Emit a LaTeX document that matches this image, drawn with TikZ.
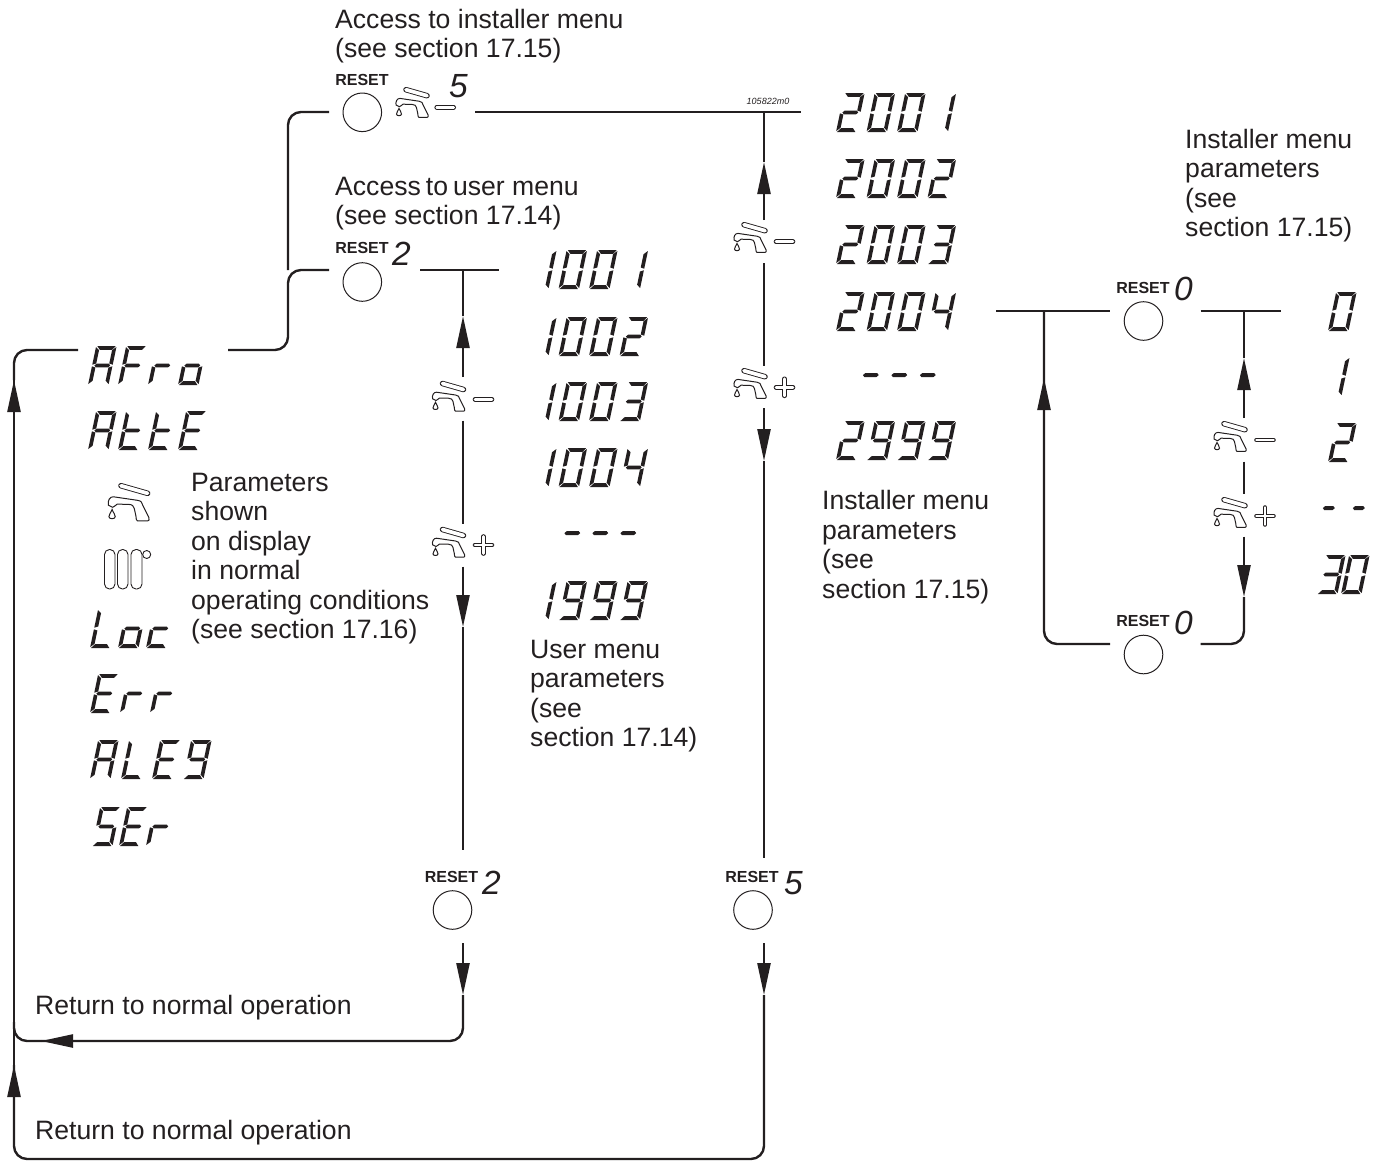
\documentclass[tikz,border=0pt]{standalone}
\usepackage{fontspec}
\setmainfont{Liberation Sans}
\usetikzlibrary{arrows.meta}
\definecolor{ink}{HTML}{231F20}
% seven segment definitions: digit box 22 x 39, y up
\def\sga{(1.2,39)--(21,39)--(18,35.2)--(4.8,35.2)--cycle}
\def\sgd{(1,0)--(20.8,0)--(17.4,3.8)--(4.6,3.8)--cycle}
\def\sgf{(0,38)--(4,34.8)--(4,21.5)--(0,20.3)--cycle}
\def\sge{(0,18.7)--(4,17.5)--(4,4.2)--(0,1)--cycle}
\def\sgb{(22,38)--(18,34.8)--(18,21.5)--(22,20.3)--cycle}
\def\sgc{(22,18.7)--(18,17.5)--(18,4.2)--(22,1)--cycle}
\def\sgg{(2.5,19.5)--(4.5,21.4)--(17.5,21.4)--(19.5,19.5)--(17.5,17.6)--(4.5,17.6)--cycle}
\def\sgh{(4.5,19.5)--(6.5,21.4)--(15.5,21.4)--(17.5,19.5)--(15.5,17.6)--(6.5,17.6)--cycle}
\def\sgz{(0,0)}
\expandafter\def\csname ch0\endcsname{a,b,c,d,e,f}
\expandafter\def\csname ch1\endcsname{b,c}
\expandafter\def\csname ch2\endcsname{a,b,g,e,d}
\expandafter\def\csname ch3\endcsname{a,b,g,c,d}
\expandafter\def\csname ch4\endcsname{f,g,b,c}
\expandafter\def\csname ch5\endcsname{a,f,g,c,d}
\expandafter\def\csname ch9\endcsname{a,b,c,d,f,g}
\expandafter\def\csname chA\endcsname{a,b,c,e,f,g}
\expandafter\def\csname chF\endcsname{a,e,f,g}
\expandafter\def\csname chr\endcsname{e,g}
\expandafter\def\csname cho\endcsname{c,d,e,g}
\expandafter\def\csname cht\endcsname{d,e,f,g}
\expandafter\def\csname chE\endcsname{a,d,e,f,g}
\expandafter\def\csname chL\endcsname{d,e,f}
\expandafter\def\csname chc\endcsname{d,e,g}
\expandafter\def\csname chS\endcsname{a,f,g,c,d}
\expandafter\def\csname chm\endcsname{g}
\expandafter\def\csname chn\endcsname{h}
\expandafter\def\csname chx\endcsname{z}
% \lcd{x}{y bottom}{pitch}{chars, comma separated}
\newcommand\lcd[4]{%
  \foreach \cc [count=\ii from 0] in {#4}{%
    \edef\seglist{\csname ch\cc\endcsname}%
    \begin{scope}[shift={({#1+\ii*#3},#2)},xslant=.21,x=.93pt,y=1pt]
      \foreach \ss in \seglist {\fill[ink] \csname sg\ss\endcsname;}
    \end{scope}}}
\newcommand\outl[2][5.5]{%
  \draw[ink,line width=#1pt,line cap=round] #2;
  \draw[white,line width=#1pt-1.8pt,line cap=round] #2;}
\tikzset{
  conn/.style={ink,line width=2.4pt,rounded corners=13pt},
  arr/.style={conn,-{Triangle[length=32pt,width=13pt]}},
  btn/.style={circle,draw=ink,line width=1pt,minimum size=38.6pt,inner sep=0pt},
  lbl/.style={text=ink,font=\fontsize{26.6pt}{29.4pt}\selectfont,align=left,inner sep=0pt,anchor=north west},
  rst/.style={text=ink,font=\fontsize{16pt}{18pt}\selectfont\bfseries,inner sep=0pt,anchor=base},
  num/.style={text=ink,font=\fontsize{33.5pt}{35pt}\selectfont\itshape,inner sep=0pt,anchor=base west},
  tapicon/.pic={
    \outl{(11,-27) -- (32,-21)}
    \draw[ink,line width=1pt,line join=round] (1,-11.7) .. controls (0.5,-15) and (2,-18.5) .. (5,-18.3)
      -- (24,-15.5) .. controls (27,-15) and (27.5,-14) .. (28,-12) -- (33,-2) .. controls (33.6,0) and (33,.7) .. (32,.7)
      -- (24,.7) .. controls (23,.7) and (23,-1) .. (22.8,-3) -- (21.5,-9) .. controls (21,-11) and (20,-12.3) .. (17,-12.3)
      -- (8,-12.5) .. controls (6.5,-12.5) and (6.5,-10) .. (4.5,-10) -- (1,-11.7) -- cycle;
    \draw[ink,line width=1pt] (4,-8.3) .. controls (5,-5.5) and (6.5,-4.5) .. (6.5,-2.6)
      .. controls (6.5,-.5) and (1.5,-.5) .. (1.5,-2.6) .. controls (1.5,-4.5) and (3,-5.5) .. (4,-8.3) -- cycle;
  },
  minus/.pic={\outl[4.6]{(0,0) -- (17,0)}},
  plus/.pic={
    \draw[ink,line width=4.6pt,line cap=round] (0,0) -- (17,0) (8.5,-8.5) -- (8.5,8.5);
    \draw[white,line width=2.8pt,line cap=round] (0,0) -- (17,0) (8.5,-8.5) -- (8.5,8.5);
  },
}
\begin{document}
\begin{tikzpicture}[x=1pt,y=-1pt]
\useasboundingbox (0,0) rectangle (1385,1160);
% ---------- buttons
\node[btn] (bI) at (362.3,112.3) {};
\node[btn] (bU) at (362.3,282) {};
\node[btn] (bU2) at (452.5,910) {};
\node[btn] (bI2) at (753,910) {};
\node[btn] (bP) at (1143.5,321) {};
\node[btn] (bP2) at (1143.5,654.5) {};
\node[rst] (rI) at (362,85) {RESET};
\node[rst] (rU) at (362,253) {RESET};
\node[rst] (rU2) at (451.5,882) {RESET};
\node[rst] (rI2) at (752,882) {RESET};
\node[rst] (rP) at (1143,293) {RESET};
\node[rst] (rP2) at (1143,626) {RESET};
\node[num] (nI) at (449,97) {5};
\node[num] (nU) at (392,265) {2};
\node[num] (nU2) at (482,894) {2};
\node[num] (nI2) at (784,894) {5};
\node[num] (nP) at (1174,300) {0};
\node[num] (nP2) at (1174,634) {0};
% ---------- texts
\node[lbl] (t1) at (335,9) {Access to installer menu\\(see section 17.15)};
\node[lbl] (t2) at (335,176.5) {Access{\hskip 5pt}to{\hskip 5pt}user menu\\(see section 17.14)};
\node[lbl] (t3) at (191,473) {Parameters\\shown\\on display\\in normal\\operating conditions\\(see section 17.16)};
\node[lbl] (t4) at (530,640) {User menu\\parameters\\(see\\section 17.14)};
\node[lbl] (t5) at (822,490.5) {Installer menu\\parameters\\(see\\section 17.15)};
\node[lbl] (t6) at (1185,129) {Installer menu\\parameters\\(see\\section 17.15)};
\node[lbl] (t7) at (35,995) {Return to normal operation};
\node[lbl] (t8) at (35,1120) {Return to normal operation};
\node[text=ink,font=\fontsize{9pt}{10pt}\selectfont\itshape,inner sep=0pt,anchor=base] (code) at (768,104) {105822m0};
% ---------- coordinates
\coordinate (afR) at (228,350);
\coordinate (afL) at (78,350);
\coordinate (kL) at (288,350);
\coordinate (kM) at (288,270);
\coordinate (kT) at (288,112);
\coordinate (iL) at (329,112);
\coordinate (iR) at (475,112);
\coordinate (iE) at (801,112);
\coordinate (iJ) at (764,112);
\coordinate (uL) at (329,270);
\coordinate (uR) at (420,270);
\coordinate (uE) at (499,270);
\coordinate (uJ) at (463,270);
% user column
\coordinate (u1) at (463,316);
\coordinate (u2) at (463,377);
\coordinate (u3) at (463,420.7);
\coordinate (u4) at (463,524);
\coordinate (u5) at (463,566.7);
\coordinate (u6) at (463,627);
\coordinate (u7) at (463,850);
\coordinate (u8) at (463,943);
\coordinate (u9) at (463,995);
\coordinate (uC) at (463,1041);
\coordinate (uV) at (200,1041);
\coordinate (uA) at (41,1041);
\coordinate (uB) at (14,1041);
\coordinate (uD) at (14,1022);
% installer column
\coordinate (i1) at (764,162);
\coordinate (i2) at (764,220);
\coordinate (i3) at (764,263);
\coordinate (i4) at (764,366);
\coordinate (i5) at (764,408);
\coordinate (i6) at (764,461);
\coordinate (i7) at (764,858);
\coordinate (i8) at (764,943);
\coordinate (i9) at (764,995);
\coordinate (iC) at (764,1159);
\coordinate (lC) at (14,1159);
\coordinate (lW) at (14,1139);
\coordinate (l1) at (14,1065);
\coordinate (lV) at (14,600);
\coordinate (l2) at (14,380);
\coordinate (lT) at (14,350);
% parameter block
\coordinate (pA) at (996,311);
\coordinate (pB) at (1110,311);
\coordinate (pJ) at (1044,311);
\coordinate (pU) at (1044,378);
\coordinate (pV) at (1044,500);
\coordinate (pC) at (1044,644);
\coordinate (pD) at (1110,644);
\coordinate (qA) at (1200.7,311);
\coordinate (qB) at (1281,311);
\coordinate (qJ) at (1244,311);
\coordinate (q1) at (1244,358);
\coordinate (q2) at (1244,418);
\coordinate (q3) at (1244,461.7);
\coordinate (q4) at (1244,494);
\coordinate (q5) at (1244,536.7);
\coordinate (q6) at (1244,597);
\coordinate (qC) at (1244,644);
\coordinate (qD) at (1200.7,644);
% ---------- connectors
\draw[conn] (afR) -- (kL) -- (kM) -- (uL);
\draw[conn] (kM) -- (kT) -- (iL);
\draw[conn] (iR) -- (iE);
\draw[conn] (uR) -- (uE);
\draw[conn] (iJ) -- (i1);
\draw[arr] (i2) -- (i1);
\draw[conn] (i3) -- (i4);
\draw[arr] (i5) -- (i6);
\draw[conn] (i6) -- (i7);
\draw[arr] (i8) -- (i9);
\draw[conn] (i9) -- (iC) -- (lC) -- (l1);
\draw[arr] (lW) -- (l1);
\draw[conn] (l1) -- (l2);
\draw[arr] (lV) -- (l2);
\draw[conn] (l2) -- (lT) -- (afL);
\draw[conn] (uJ) -- (u1);
\draw[arr] (u2) -- (u1);
\draw[conn] (u3) -- (u4);
\draw[arr] (u5) -- (u6);
\draw[conn] (u6) -- (u7);
\draw[arr] (u8) -- (u9);
\draw[conn] (u9) -- (uC) -- (uA);
\draw[arr] (uV) -- (uA);
\draw[conn] (uA) -- (uB) -- (uD);
\draw[conn] (pA) -- (pB);
\draw[conn] (pD) -- (pC) -- (pJ);
\draw[arr] (pV) -- (pU);
\draw[conn] (qA) -- (qB);
\draw[conn] (qJ) -- (q1);
\draw[arr] (q2) -- (q1);
\draw[conn] (q3) -- (q4);
\draw[arr] (q5) -- (q6);
\draw[conn] (q6) -- (qC) -- (qD);
% ---------- tap icons
\pic at (395,116.7) {tapicon};
\pic at (436.7,107.2) {minus};
\pic at (431.5,410.5) {tapicon};
\pic at (475,399.3) {minus};
\pic at (431.5,556.5) {tapicon};
\pic at (475,545) {plus};
\pic at (733,251.7) {tapicon};
\pic at (776,241.7) {minus};
\pic at (733,397.7) {tapicon};
\pic at (776,387.3) {plus};
\pic at (1213,450.7) {tapicon};
\pic at (1256.5,440) {minus};
\pic at (1213,526.7) {tapicon};
\pic at (1256.5,516) {plus};
\pic[scale=1.27] at (107,520) {tapicon};
% radiator
\draw[ink,line width=.9pt,rounded corners=5pt] (104.5,549.5) rectangle (115,589);
\draw[ink,line width=.9pt,rounded corners=5pt] (117.5,549.5) rectangle (128,589);
\draw[ink,line width=.9pt,rounded corners=5pt] (131,549.5) rectangle (142,589);
\draw[ink,line width=.9pt] (146.7,554.5) circle (4pt);
% ---------- LCD words
\lcd{88}{385}{30}{A,F,r,o}
\lcd{88}{450}{30}{A,t,t,E}
\lcd{90}{648}{28}{L,o,c}
\lcd{90}{713}{30}{E,r,r}
\lcd{90}{779}{31}{A,L,E,9}
\lcd{92}{846}{27}{S,E,r}
\lcd{528}{289}{30.5}{1,0,0,1}
\lcd{528}{356}{30.5}{1,0,0,2}
\lcd{528}{421}{30.5}{1,0,0,3}
\lcd{528}{487}{30.5}{1,0,0,4}
\lcd{558}{552.6}{28}{m,m,m}
\lcd{528}{620}{30.5}{1,9,9,9}
\lcd{836}{132}{30.5}{2,0,0,1}
\lcd{836}{198}{30.5}{2,0,0,2}
\lcd{836}{264}{30.5}{2,0,0,3}
\lcd{836}{331}{30.5}{2,0,0,4}
\lcd{856.5}{394.6}{28.5}{m,m,m}
\lcd{836}{460}{30.5}{2,9,9,9}
\lcd{1328}{331}{30}{0}
\lcd{1321}{396}{30}{1}
\lcd{1328}{462}{30}{2}
\lcd{1314.5}{527.6}{30}{n,n}
\lcd{1317}{594}{24}{3,0}
\end{tikzpicture}
\end{document}
